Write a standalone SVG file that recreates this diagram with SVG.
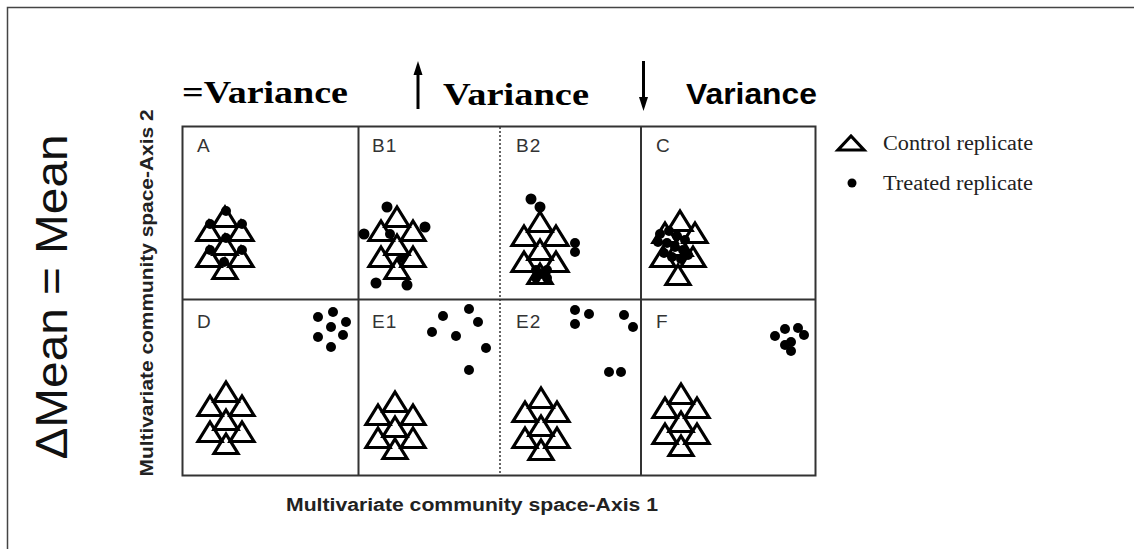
<svg xmlns="http://www.w3.org/2000/svg" xmlns:xlink="http://www.w3.org/1999/xlink" width="1134" height="549" viewBox="0 0 1134 549">
<style>
.tri{fill:none;stroke:#000;stroke-width:3.2;stroke-linejoin:miter}
.dot{fill:#000}
.lbl{font-family:"Liberation Sans",Arial,sans-serif;font-size:19px;fill:#333;letter-spacing:1px}
.hdr{font-family:"Liberation Serif","Times New Roman",serif;font-weight:bold;font-size:31px;fill:#000}
.leg{font-family:"Liberation Serif","Times New Roman",serif;font-size:20px;fill:#222}
.axis{font-family:"Liberation Sans",Arial,sans-serif;font-weight:bold;font-size:18px;fill:#222}
.grid{fill:none;stroke:#333;stroke-width:2}
</style>
<defs>
<path id="tri" class="tri" d="M0,0 L12,19.5 L-12,19.5 Z"/>
<g id="cluster">
<use xlink:href="#tri" x="0" y="0"/>
<use xlink:href="#tri" x="-16" y="14"/>
<use xlink:href="#tri" x="16" y="14"/>
<use xlink:href="#tri" x="0" y="28"/>
<use xlink:href="#tri" x="-16" y="40"/>
<use xlink:href="#tri" x="16" y="40"/>
<use xlink:href="#tri" x="0" y="52"/>
</g>
</defs>
<rect width="1134" height="549" fill="#fff"/>
<!-- outer frame -->
<path d="M7.5,549 V7.5 H1134" fill="none" stroke="#444" stroke-width="1.5"/>

<!-- headers -->
<g id="headers">
<text class="hdr" x="182" y="103" textLength="166" lengthAdjust="spacingAndGlyphs">=Variance</text>
<line x1="418" y1="72" x2="418" y2="109" stroke="#000" stroke-width="3"/>
<polygon points="418,61 413.5,75 422.5,75" fill="#000"/>
<text class="hdr" x="443" y="105" textLength="146" lengthAdjust="spacingAndGlyphs">Variance</text>
<line x1="643.5" y1="61" x2="643.5" y2="98" stroke="#000" stroke-width="3"/>
<polygon points="643.5,111 639,97 648,97" fill="#000"/>
<text x="686" y="104" font-family="Liberation Sans, Arial, sans-serif" font-weight="bold" font-size="29" textLength="131" lengthAdjust="spacingAndGlyphs">Variance</text>
</g>

<!-- axis labels -->
<g id="axes">
<text transform="translate(67,297) rotate(-90)" text-anchor="middle" font-family="Liberation Sans, Arial, sans-serif" font-size="44" fill="#111" textLength="325" lengthAdjust="spacingAndGlyphs">ΔMean = Mean</text>
<text class="axis" transform="translate(153,293) rotate(-90)" text-anchor="middle" textLength="367" lengthAdjust="spacingAndGlyphs">Multivariate community space-Axis 2</text>
<text class="axis" x="472" y="511" text-anchor="middle" textLength="372" lengthAdjust="spacingAndGlyphs">Multivariate community space-Axis 1</text>
</g>

<!-- grid -->
<g id="grid">
<rect class="grid" x="182.5" y="126.5" width="633" height="349"/>
<line class="grid" x1="182" y1="299.5" x2="816" y2="299.5"/>
<line class="grid" x1="358.5" y1="126" x2="358.5" y2="476"/>
<line class="grid" x1="641" y1="126" x2="641" y2="476"/>
<line x1="500" y1="127" x2="500" y2="475" stroke="#333" stroke-width="1.5" stroke-dasharray="2 2"/>
</g>

<!-- panel A -->
<g id="panelA">
<text class="lbl" x="197" y="152">A</text>
<use xlink:href="#cluster" x="225" y="207"/>
<circle class="dot" cx="226" cy="211" r="5"/>
<circle class="dot" cx="210" cy="224" r="5"/>
<circle class="dot" cx="242" cy="224" r="5"/>
<circle class="dot" cx="226" cy="238" r="5"/>
<circle class="dot" cx="210" cy="250" r="5"/>
<circle class="dot" cx="242" cy="250" r="5"/>
<circle class="dot" cx="224" cy="262" r="5"/>
</g>

<!-- panel B1 -->
<g id="panelB1">
<text class="lbl" x="372" y="152">B1</text>
<use xlink:href="#cluster" x="397" y="207"/>
<circle class="dot" cx="387" cy="207" r="5.5"/>
<circle class="dot" cx="425" cy="227" r="5.5"/>
<circle class="dot" cx="364" cy="234" r="5.5"/>
<circle class="dot" cx="390" cy="234" r="5"/>
<circle class="dot" cx="402" cy="258" r="5"/>
<circle class="dot" cx="376" cy="283" r="5.5"/>
<circle class="dot" cx="407" cy="285" r="5.5"/>
</g>

<!-- panel B2 -->
<g id="panelB2">
<text class="lbl" x="516" y="152">B2</text>
<use xlink:href="#cluster" x="540" y="212"/>
<circle class="dot" cx="531" cy="199" r="5.5"/>
<circle class="dot" cx="540" cy="207" r="5.5"/>
<circle class="dot" cx="575" cy="243" r="5"/>
<circle class="dot" cx="575" cy="252" r="5"/>
<circle class="dot" cx="536" cy="270" r="5"/>
<circle class="dot" cx="547" cy="270" r="5"/>
<circle class="dot" cx="541" cy="274" r="5"/>
<circle class="dot" cx="536" cy="278" r="5"/>
<circle class="dot" cx="547" cy="278" r="5"/>
</g>

<!-- panel C -->
<g id="panelC">
<text class="lbl" x="656" y="152">C</text>
<use xlink:href="#tri" x="680" y="211"/>
<use xlink:href="#tri" x="665" y="223"/>
<use xlink:href="#tri" x="695" y="223"/>
<use xlink:href="#tri" x="680" y="236"/>
<use xlink:href="#tri" x="663" y="247"/>
<use xlink:href="#tri" x="693" y="247"/>
<use xlink:href="#tri" x="678" y="265"/>
<circle class="dot" cx="660" cy="234" r="5"/>
<circle class="dot" cx="669" cy="231" r="5"/>
<circle class="dot" cx="677" cy="236" r="5"/>
<circle class="dot" cx="685" cy="240" r="5"/>
<circle class="dot" cx="658" cy="242" r="5"/>
<circle class="dot" cx="667" cy="243" r="5"/>
<circle class="dot" cx="675" cy="247" r="5"/>
<circle class="dot" cx="683" cy="250" r="5"/>
<circle class="dot" cx="664" cy="253" r="5"/>
<circle class="dot" cx="672" cy="257" r="5"/>
<circle class="dot" cx="681" cy="259" r="5"/>
<circle class="dot" cx="688" cy="255" r="5"/>
</g>

<!-- panel D -->
<g id="panelD">
<text class="lbl" x="197" y="328">D</text>
<use xlink:href="#cluster" x="226" y="382"/>
<circle class="dot" cx="318" cy="317" r="5"/>
<circle class="dot" cx="333" cy="312" r="5"/>
<circle class="dot" cx="346" cy="322" r="5"/>
<circle class="dot" cx="331" cy="327" r="5"/>
<circle class="dot" cx="318" cy="337" r="5"/>
<circle class="dot" cx="343" cy="335" r="5"/>
<circle class="dot" cx="331" cy="347" r="5"/>
</g>

<!-- panel E1 -->
<g id="panelE1">
<text class="lbl" x="372" y="328">E1</text>
<use xlink:href="#tri" x="395" y="392"/>
<use xlink:href="#tri" x="378" y="405"/>
<use xlink:href="#tri" x="413" y="405"/>
<use xlink:href="#tri" x="395" y="417"/>
<use xlink:href="#tri" x="378" y="428"/>
<use xlink:href="#tri" x="413" y="428"/>
<use xlink:href="#tri" x="395" y="439"/>
<circle class="dot" cx="443" cy="316" r="5"/>
<circle class="dot" cx="469" cy="309" r="5"/>
<circle class="dot" cx="478" cy="322" r="5"/>
<circle class="dot" cx="432" cy="332" r="5"/>
<circle class="dot" cx="456" cy="336" r="5"/>
<circle class="dot" cx="486" cy="348" r="5"/>
<circle class="dot" cx="469" cy="370" r="5"/>
</g>

<!-- panel E2 -->
<g id="panelE2">
<text class="lbl" x="516" y="328">E2</text>
<use xlink:href="#cluster" x="541" y="388"/>
<circle class="dot" cx="575" cy="310" r="5"/>
<circle class="dot" cx="589" cy="314" r="5"/>
<circle class="dot" cx="575" cy="324" r="5"/>
<circle class="dot" cx="624" cy="315" r="5"/>
<circle class="dot" cx="633" cy="327" r="5"/>
<circle class="dot" cx="609" cy="372" r="5"/>
<circle class="dot" cx="621" cy="372" r="5"/>
</g>

<!-- panel F -->
<g id="panelF">
<text class="lbl" x="656" y="328">F</text>
<use xlink:href="#cluster" x="681" y="384"/>
<circle class="dot" cx="775" cy="336" r="5"/>
<circle class="dot" cx="785" cy="329" r="5"/>
<circle class="dot" cx="798" cy="328" r="5"/>
<circle class="dot" cx="804" cy="335" r="5"/>
<circle class="dot" cx="785" cy="345" r="5"/>
<circle class="dot" cx="791" cy="342" r="5"/>
<circle class="dot" cx="791" cy="351" r="5"/>
</g>

<!-- legend -->
<g id="legend">
<path class="tri" d="M851,136 L864,150 L838,150 Z"/>
<text class="leg" x="883" y="150" textLength="150" lengthAdjust="spacingAndGlyphs">Control replicate</text>
<circle class="dot" cx="852" cy="183" r="4.5"/>
<text class="leg" x="883" y="190" textLength="150" lengthAdjust="spacingAndGlyphs">Treated replicate</text>
</g>
</svg>
